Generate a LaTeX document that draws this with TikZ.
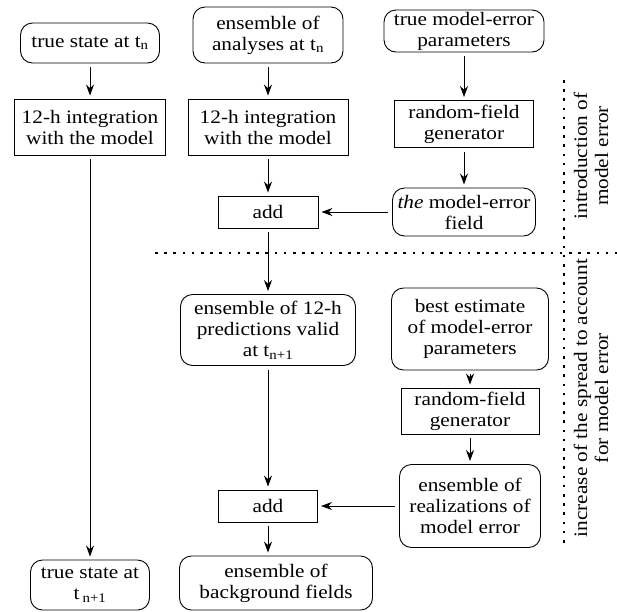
\documentclass[tikz,border=0pt]{standalone}
\usepackage{fontspec}
\setmainfont{Liberation Serif}[FakeStretch=1.12]
\usetikzlibrary{arrows.meta}
\tikzset{
  rbox/.style={draw, rounded corners=12pt, align=center, inner sep=0pt},
  sbox/.style={draw, align=center, inner sep=0pt},
  conn/.style={-{Stealth[length=11pt,width=8pt]}, shorten <=4pt, shorten >=3pt},
  sep/.style={line width=2.6pt, dash pattern=on 2.6pt off 6.6pt},
}

\begin{document}
\begin{tikzpicture}[x=1pt, y=-1pt, line width=0.9pt, font=\fontsize{19}{21}\selectfont]
\useasboundingbox (0,0) rectangle (617,611);

% truth
\node [rbox, minimum width=139pt, minimum height=40pt] (ts0) at (90,43) {true state at t\textsubscript{n}};
\node [sbox, minimum width=151pt, minimum height=56pt] (int1) at (90,127) {12-h integration\\with the model};
\node [rbox, minimum width=119pt, minimum height=50pt] (ts1) at (90,585) {true state at\\t\,\textsubscript{n+1}};

% ensemble
\node [rbox, minimum width=150pt, minimum height=56pt] (ens0) at (268,35) {ensemble of\\analyses at t\textsubscript{n}};
\node [sbox, minimum width=160pt, minimum height=56pt] (int2) at (268,127) {12-h integration\\with the model};
\node [sbox, minimum width=100pt, minimum height=32pt] (add1) at (268,212) {add};
\node [rbox, minimum width=175pt, minimum height=71pt] (pred) at (268,330) {ensemble of 12-h\\predictions valid\\at t\textsubscript{n+1}};
\node [sbox, minimum width=99pt, minimum height=32pt] (add2) at (268,506) {add};
\node [rbox, minimum width=193pt, minimum height=54pt] (bg) at (276,583) {ensemble of\\background fields};

% model error
\node [rbox, minimum width=160pt, minimum height=42pt] (par0) at (464,31) {true model-error\\parameters};
\node [sbox, minimum width=139pt, minimum height=47pt] (rfg1) at (464,124) {random-field\\generator};
\node [rbox, minimum width=143pt, minimum height=48pt] (mef) at (464,212) {\textit{the} model-error\\field};
\node [rbox, minimum width=157pt, minimum height=82pt] (best) at (470,329) {best estimate\\of model-error\\parameters};
\node [sbox, minimum width=138pt, minimum height=46pt] (rfg2) at (470,411) {random-field\\generator};
\node [rbox, minimum width=141pt, minimum height=83pt] (real) at (470,506) {ensemble of\\realizations of\\model error};

\foreach \a/\b in {ts0/int1, int1/ts1, ens0/int2, int2/add1, add1/pred, pred/add2,
  par0/rfg1, rfg1/mef, mef/add1, best/rfg2, rfg2/real, real/add2}
  {\draw [conn] (\a) -- (\b);}
\draw [conn] (add2.south) -- (add2.south |- bg.north);

% separators
\coordinate (hl) at (155,253);
\coordinate (hr) at (617,253);
\coordinate (vt) at (564,80);
\coordinate (vb) at (564,545);
\draw [sep] (hl) -- (hr);
\draw [sep] (vt) -- (vb);

\node [rotate=90, align=center] (intro) at (591,156) {introduction of\\model error};
\node [rotate=90, align=center] (incr) at (591,398) {increase of the spread to account\\for model error};

\end{tikzpicture}
\end{document}
